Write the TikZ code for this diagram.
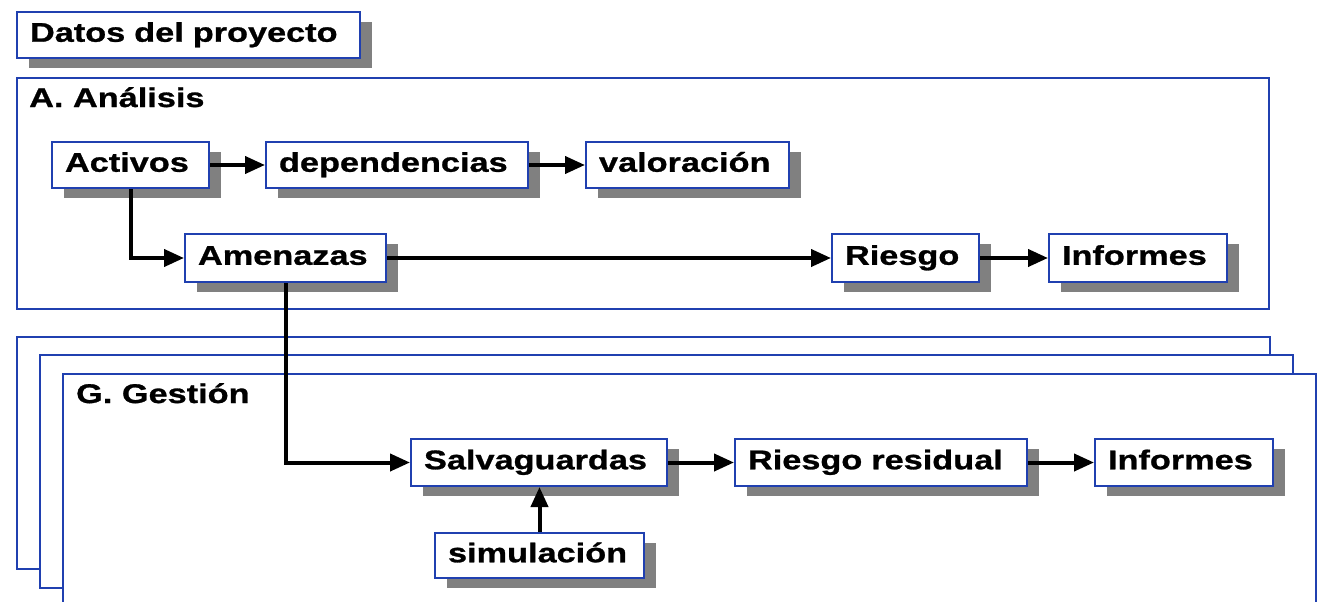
\documentclass[tikz,border=0pt]{standalone}
\usepackage{fontspec}
\setmainfont{Liberation Sans}[FakeStretch=1.27, BoldFeatures={FakeBold=1}]
\usetikzlibrary{arrows.meta,shadows}
\definecolor{boxblue}{RGB}{32,64,176}
\definecolor{shgray}{RGB}{128,128,128}
\lefthyphenmin=64
\begin{document}
\begin{tikzpicture}[x=1pt,y=-1pt,
  lbl/.style={font=\fontsize{27}{30}\selectfont\bfseries},
  bx/.style={lbl, draw=boxblue, line width=2pt, fill=white, anchor=north west,
    inner xsep=13pt, inner ysep=0pt, align=left, text height=19.5pt, text depth=6pt,
    drop shadow={shadow xshift=12pt, shadow yshift=-10pt, fill=shgray, opacity=1}},
  cont/.style={draw=boxblue, line width=2pt, fill=white, anchor=north west, inner sep=0pt},
  ttl/.style={lbl, anchor=base west, inner sep=0pt},
  conn/.style={draw=black, line width=4pt, -{Triangle[length=20pt,width=17pt]}}
]
\useasboundingbox (0,0) rectangle (1318,602);
\clip (0,0) rectangle (1318,602);

% containers
\node[cont, minimum width=1252pt, minimum height=231pt] (A) at (16,77) {};
\node[ttl] (Atitle) at (29,107) {A. Análisis};
\node[cont, minimum width=1253pt, minimum height=232pt] (G1) at (16,336) {};
\node[cont, minimum width=1253pt, minimum height=233pt] (G2) at (39,354) {};
\node[cont, minimum width=1253pt, minimum height=260pt] (G3) at (62,373) {};
\node[ttl] (Gtitle) at (76,403) {G. Gestión};

% boxes
\node[bx, minimum height=46pt, text width=317pt] (datos) at (16,11) {Datos~del~proyecto};
\node[bx, minimum height=46pt, text width=131pt] (activos) at (51,141) {Activos};
\node[bx, minimum height=46pt, text width=236pt] (dep) at (265,141) {dependencias};
\node[bx, minimum height=46pt, text width=177pt] (val) at (585,141) {valoración};
\node[bx, minimum height=48pt, text width=175pt] (amen) at (184,233) {Amenazas};
\node[bx, minimum height=48pt, text width=121pt] (riesgo) at (831,233) {Riesgo};
\node[bx, minimum height=48pt, text width=152pt] (inf1) at (1048,233) {Informes};
\node[bx, minimum height=47pt, text width=230pt] (salv) at (410,438) {Salvaguardas};
\node[bx, minimum height=47pt, text width=266pt] (rr) at (734,438) {Riesgo~residual};
\node[bx, minimum height=47pt, text width=152pt] (inf2) at (1094,438) {Informes};
\node[bx, minimum height=45pt, text width=183pt] (sim) at (434,532) {simulación};

% connectors
\draw[conn] (activos.east) -- (dep.west);
\draw[conn] (dep.east) -- (val.west);
\draw[conn] (activos.south) |- (amen.west);
\draw[conn] (amen.east) -- (riesgo.west);
\draw[conn] (riesgo.east) -- (inf1.west);
\draw[conn] (amen.south) |- (salv.west);
\draw[conn] (salv.east) -- (rr.west);
\draw[conn] (rr.east) -- (inf2.west);
\draw[conn] (sim.north) -- (sim.north |- salv.south);
\end{tikzpicture}
\end{document}
